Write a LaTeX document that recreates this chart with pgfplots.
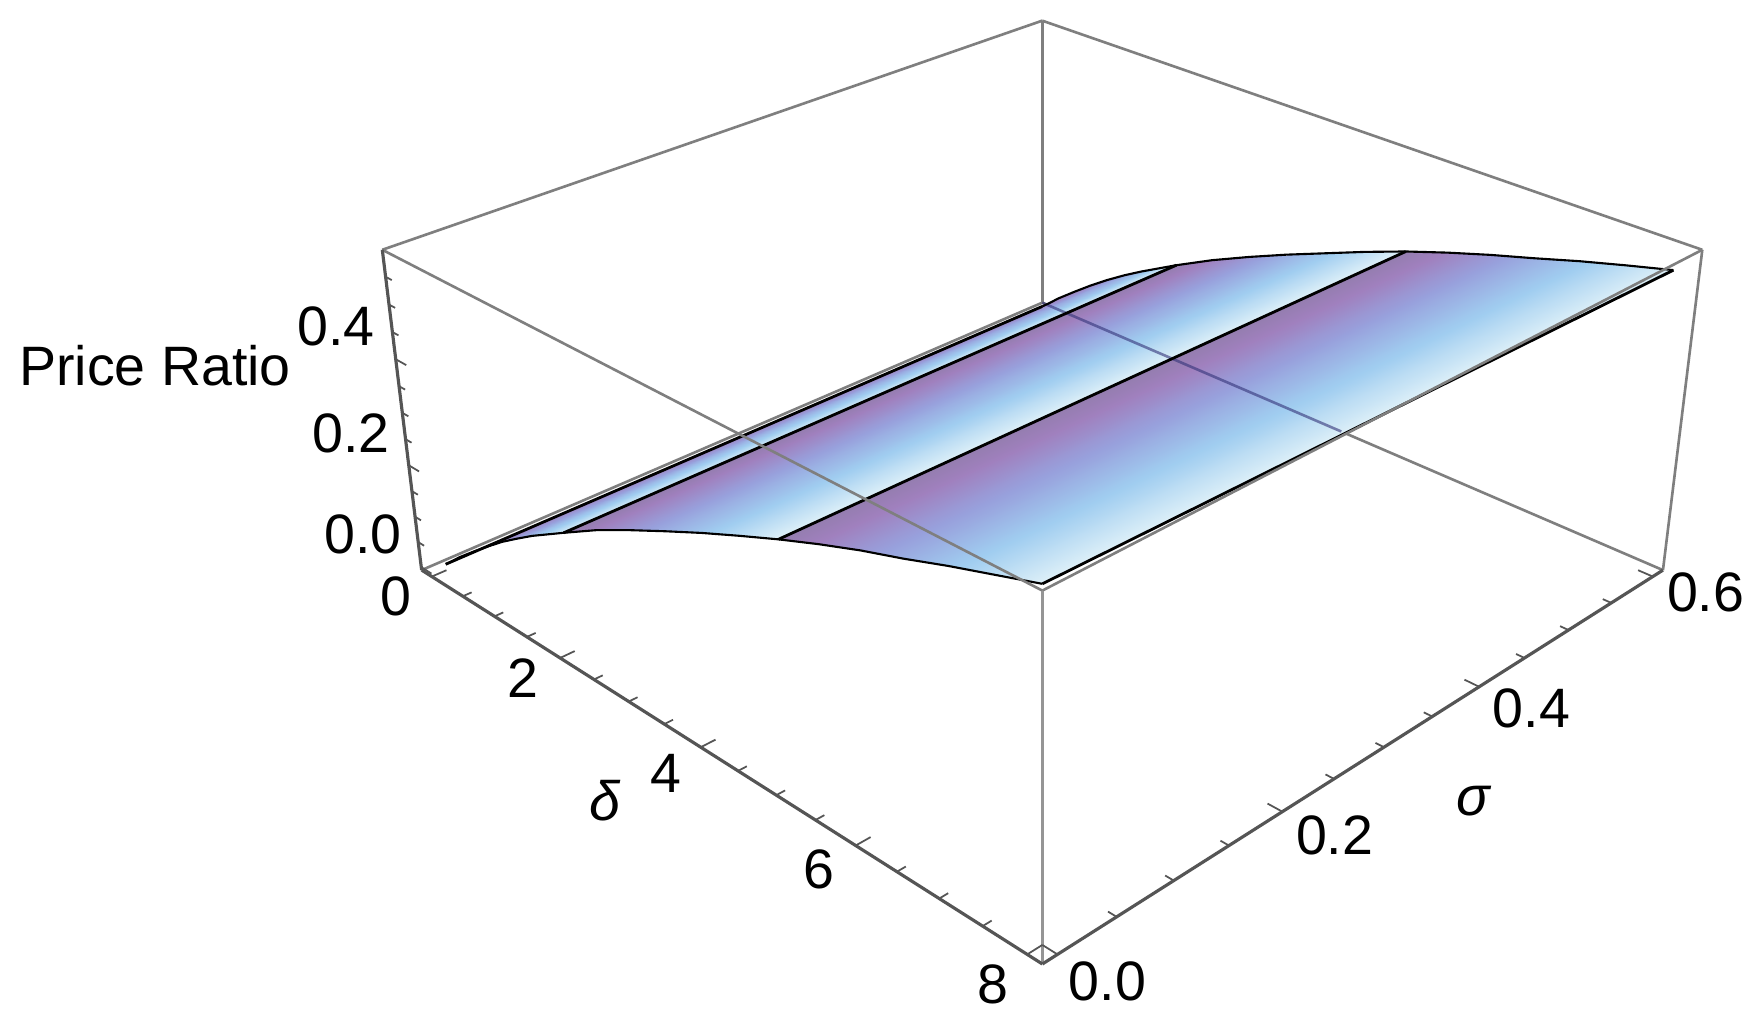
\documentclass[border=0pt]{standalone}
\usepackage{pgfplots}
\usepackage{pgfplotstable}
\usepackage{fontspec}
\setmainfont{Liberation Sans}
\pgfplotsset{compat=1.18}

% surface: delta, sigma, price ratio, colour position inside the strip
\pgfplotstableread{
d s z c
0 0 0.006 0.00
0 0.6 0.006 0.00
0.125 0 0.022 0.02
0.125 0.6 0.022 0.02
0.25 0 0.039 0.05
0.25 0.6 0.039 0.05
0.5 0 0.069 0.12
0.5 0.6 0.069 0.12
0.75 0 0.098 0.20
0.75 0.6 0.098 0.20
1 0 0.126 0.30
1 0.6 0.125 0.30
1.25 0 0.151 0.45
1.25 0.6 0.150 0.45
1.5 0 0.175 0.62
1.5 0.6 0.173 0.62
2 0 0.218 1.00
2 0.6 0.216 1.00
2 0 0.218 0.00
2 0.6 0.216 0.00
2.5 0 0.260 0.167
2.5 0.6 0.256 0.167
3 0 0.297 0.333
3 0.6 0.292 0.333
3.5 0 0.332 0.50
3.5 0.6 0.326 0.50
4 0 0.366 0.667
4 0.6 0.358 0.667
4.5 0 0.398 0.833
4.5 0.6 0.390 0.833
5 0 0.429 1.00
5 0.6 0.420 1.00
5 0 0.429 0.00
5 0.6 0.420 0.00
5.5 0 0.458 0.167
5.5 0.6 0.447 0.167
6 0 0.485 0.333
6 0.6 0.472 0.333
6.5 0 0.509 0.50
6.5 0.6 0.495 0.50
7 0 0.535 0.667
7 0.6 0.519 0.667
7.5 0 0.559 0.833
7.5 0.6 0.541 0.833
8 0 0.583 1.00
8 0.6 0.562 1.00
}\surfacetable

% outlines of the surface at sigma 0 and sigma 0.6
\pgfplotstableread{
d s z
0 0 0.006
0.125 0 0.022
0.25 0 0.039
0.5 0 0.069
0.75 0 0.098
1 0 0.126
1.25 0 0.151
1.5 0 0.175
2 0 0.218
2.5 0 0.260
3 0 0.297
3.5 0 0.332
4 0 0.366
4.5 0 0.398
5 0 0.429
5.5 0 0.458
6 0 0.485
6.5 0 0.509
7 0 0.535
7.5 0 0.559
8 0 0.583
}\edgelow
\pgfplotstableread{
d s z
0 0.6 0.006
0.125 0.6 0.022
0.25 0.6 0.039
0.5 0.6 0.069
0.75 0.6 0.098
1 0.6 0.125
1.25 0.6 0.150
1.5 0.6 0.173
2 0.6 0.216
2.5 0.6 0.256
3 0.6 0.292
3.5 0.6 0.326
4 0.6 0.358
4.5 0.6 0.390
5 0.6 0.420
5.5 0.6 0.447
6 0.6 0.472
6.5 0.6 0.495
7 0.6 0.519
7.5 0.6 0.541
8 0.6 0.562
}\edgehigh

% perspective of the Mathematica box, screen position from delta, sigma, z
\def\prU{(0.02+0.12*\thisrow{d})}
\def\prV{(0.02+1.6*\thisrow{s})}
\def\prW{(0.01+1.655*\thisrow{z})}
\def\prD{(1-0.1843*\prU+0.1843*\prV-0.0596*\prW)}
\def\prX{(375+381.2*\prU+722.8*\prV-55.25*\prW)/\prD}
\def\prY{916-(507+188.2*\prU-188.2*\prV-298.1*\prW)/\prD-5*\prU*(1-\prV)*(1-\prW)}

\newcommand{\seg}[7]{\addplot[#1] table[row sep=crcr, x expr=\prX, y expr=\prY]{d s z\\ #2 #3 #4\\ #5 #6 #7\\};}

\definecolor{boxgray}{HTML}{7F7F7F}
\definecolor{frontgray}{HTML}{959595}
\definecolor{axisgray}{HTML}{555555}

\begin{document}
\begin{tikzpicture}
\begin{axis}[
    scale only axis,
    width=176.3mm,
    height=103mm,
    xmin=0, xmax=1568,
    ymin=0, ymax=916,
    view={0}{90},
    hide axis,
    clip=false,
    colormap={strip}{rgb255(0)=(148,125,175) rgb255(15)=(160,128,190) rgb255(40)=(152,160,220) rgb255(70)=(160,205,240) rgb255(100)=(222,240,248)},
    point meta min=0, point meta max=1,
    every axis plot/.append style={forget plot},
    nodes={font=\fontsize{15.8}{18}\selectfont, inner sep=0pt},
    boxl/.style={no markers, draw=boxgray, line width=0.75pt},
    axl/.style={no markers, draw=axisgray, line width=0.9pt},
    blk/.style={no markers, draw=black, line width=0.8pt},
    tck/.style={no markers, draw=axisgray, line width=0.5pt},
]
\path (axis cs:0,0) rectangle (axis cs:1568,916);

% back edges, behind the surface
\seg{boxl}{-0.1667}{0.6125}{0.5982}{-0.1667}{0.6125}{-0.006}
\seg{boxl}{-0.1667}{0.6125}{-0.006}{-0.1667}{-0.0125}{-0.006}
\seg{boxl}{-0.1667}{0.6125}{-0.006}{8.1667}{0.6125}{-0.006}

\addplot3[surf, shader=interp, mesh/cols=2, point meta=\thisrow{c}]
    table[x expr=\prX, y expr=\prY, z expr=0] {\surfacetable};

% the back edge shows through the surface
\seg{no markers, draw=black!55!blue!60!gray, line width=0.75pt, opacity=0.6}{-0.1667}{0.6125}{-0.006}{4.2}{0.6125}{-0.006}

% surface outline and mesh lines
\addplot[no markers, draw=black, line width=0.6pt] table[x expr=\prX, y expr=\prY] {\edgelow};
\addplot[no markers, draw=black, line width=0.6pt] table[x expr=\prX, y expr=\prY] {\edgehigh};
\seg{blk}{0}{0}{0.006}{0}{0.6}{0.006}
\seg{blk}{2}{0}{0.218}{2}{0.6}{0.216}
\seg{blk}{5}{0}{0.429}{5}{0.6}{0.420}
\seg{blk}{8}{0}{0.583}{8}{0.6}{0.562}

% front and top edges of the box
\seg{boxl}{-0.1667}{-0.0125}{0.5982}{8.1667}{-0.0125}{0.5982}
\seg{boxl}{8.1667}{-0.0125}{0.5982}{8.1667}{0.6125}{0.5982}
\seg{boxl}{8.1667}{0.6125}{0.5982}{-0.1667}{0.6125}{0.5982}
\seg{boxl}{-0.1667}{0.6125}{0.5982}{-0.1667}{-0.0125}{0.5982}
\seg{no markers, draw=frontgray, line width=0.8pt}{8.1667}{-0.0125}{-0.006}{8.1667}{-0.0125}{0.5982}
\seg{boxl}{8.1667}{0.6125}{-0.006}{8.1667}{0.6125}{0.5982}
\seg{axl}{-0.1667}{-0.0125}{-0.006}{-0.1667}{-0.0125}{0.5982}
\seg{axl}{-0.1667}{-0.0125}{-0.006}{8.1667}{-0.0125}{-0.006}
\seg{axl}{8.1667}{-0.0125}{-0.006}{8.1667}{0.6125}{-0.006}

% ticks, delta
\pgfplotsinvokeforeach{0,2,4,6,8}{\seg{tck}{#1}{-0.0125}{-0.006}{#1}{0.0}{-0.006}}
\pgfplotsinvokeforeach{0.5,1,1.5,2.5,3,3.5,4.5,5,5.5,6.5,7,7.5}{\seg{tck}{#1}{-0.0125}{-0.006}{#1}{-0.005}{-0.006}}
% ticks, sigma
\pgfplotsinvokeforeach{0,0.2,0.4,0.6}{\seg{tck}{8.1667}{#1}{-0.006}{8.0}{#1}{-0.006}}
\pgfplotsinvokeforeach{0.05,0.1,0.15,0.25,0.3,0.35,0.45,0.5,0.55}{\seg{tck}{8.1667}{#1}{-0.006}{8.07}{#1}{-0.006}}
% ticks, price ratio
\pgfplotsinvokeforeach{0,0.2,0.4}{\seg{tck}{-0.1667}{-0.0125}{#1}{0.0}{-0.0125}{#1}}
\pgfplotsinvokeforeach{0.05,0.1,0.15,0.25,0.3,0.35,0.45,0.5,0.55}{\seg{tck}{-0.1667}{-0.0125}{#1}{-0.07}{-0.0125}{#1}}

\node at (axis cs:138,591) {Price Ratio};
\node at (axis cs:299,626) {0.4};
\node at (axis cs:312,531) {0.2};
\node at (axis cs:323,441) {0.0};
\node at (axis cs:352,386) {0};
\node at (axis cs:465,313) {2};
\node at (axis cs:592,228) {4};
\node at (axis cs:728,143) {6};
\node at (axis cs:883,41) {8};
\node at (axis cs:538,204) {\itshape δ};
\node at (axis cs:985,43) {0.0};
\node at (axis cs:1187,173) {0.2};
\node at (axis cs:1362,286) {0.4};
\node at (axis cs:1517,389) {0.6};
\node at (axis cs:1310,204) {\itshape σ};
\end{axis}
\end{tikzpicture}
\end{document}
